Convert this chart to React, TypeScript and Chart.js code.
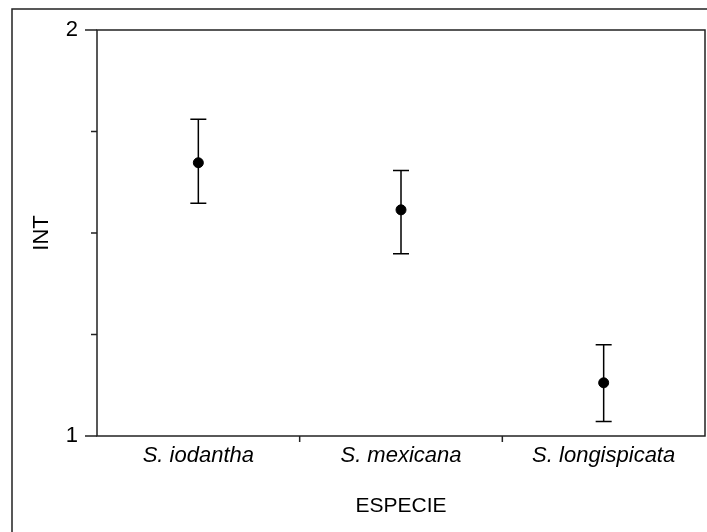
import { useEffect, useRef } from "react";
import { Chart, registerables } from "chart.js";

Chart.register(...registerables);

const categories = ["S. iodantha", "S. mexicana", "S. longispicata"];
const means = [1.673, 1.557, 1.131];
const upper = [1.78, 1.654, 1.225];
const lower = [1.573, 1.449, 1.036];
const yMajorLabels = [1, 2];

const FONT = "'Liberation Sans', Arial, sans-serif";

const framePlugin = {
  id: "frame",
  beforeDraw(chart: any) {
    const ctx = chart.ctx;
    ctx.save();
    ctx.strokeStyle = "#222";
    ctx.lineWidth = 1.5;
    ctx.beginPath();
    ctx.moveTo(12, chart.height + 2);
    ctx.lineTo(12, 9);
    ctx.lineTo(chart.width + 2, 9);
    ctx.stroke();
    ctx.restore();
  },
  beforeDatasetsDraw(chart: any) {
    const ctx = chart.ctx;
    const xs = chart.scales.x;
    const ys = chart.scales.y;
    ctx.save();
    ctx.strokeStyle = "#000";
    ctx.lineWidth = 1.5;
    for (let i = 0; i < categories.length; i++) {
      const x = xs.getPixelForValue(i);
      const yh = ys.getPixelForValue(upper[i]);
      const yl = ys.getPixelForValue(lower[i]);
      ctx.beginPath();
      ctx.moveTo(x, yh);
      ctx.lineTo(x, yl);
      ctx.moveTo(x - 8, yh);
      ctx.lineTo(x + 8, yh);
      ctx.moveTo(x - 8, yl);
      ctx.lineTo(x + 8, yl);
      ctx.stroke();
    }
    ctx.restore();
  },
  afterDraw(chart: any) {
    const ctx = chart.ctx;
    const { left, right, top, bottom } = chart.chartArea;
    const xs = chart.scales.x;
    const ys = chart.scales.y;
    ctx.save();
    ctx.strokeStyle = "#222";
    ctx.lineWidth = 1.5;
    ctx.strokeRect(left, top, right - left, bottom - top);
    ctx.beginPath();
    ys.ticks.forEach((t: any) => {
      const y = ys.getPixelForValue(t.value);
      const len = yMajorLabels.includes(t.value) ? 12 : 6;
      ctx.moveTo(left - len, y);
      ctx.lineTo(left, y);
    });
    for (let i = 0; i < categories.length - 1; i++) {
      const x = (xs.getPixelForValue(i) + xs.getPixelForValue(i + 1)) / 2;
      ctx.moveTo(x, bottom);
      ctx.lineTo(x, bottom + 6);
    }
    ctx.stroke();
    ctx.restore();
  },
};

export default function App() {
  const ref = useRef<HTMLCanvasElement | null>(null);
  useEffect(() => {
    if (!ref.current) return;
    const chart = new Chart(ref.current, {
      type: "line",
      data: {
        labels: categories,
        datasets: [
          {
            data: means,
            showLine: false,
            pointRadius: 5,
            pointBackgroundColor: "#000",
            pointBorderColor: "#000",
            pointBorderWidth: 1,
          },
        ],
      },
      options: {
        animation: false,
        responsive: false,
        events: [],
        layout: { autoPadding: false, padding: { left: 29, top: 30, right: 2, bottom: 13 } },
        plugins: { legend: { display: false }, tooltip: { enabled: false } },
        scales: {
          x: {
            type: "category",
            offset: true,
            grid: { display: false, drawTicks: false },
            border: { display: false },
            ticks: {
              padding: 7,
              color: "#000",
              font: { family: FONT, size: 22, style: "italic" },
              maxRotation: 0,
            },
            title: {
              display: true,
              text: "ESPECIE",
              color: "#000",
              padding: 0,
              font: { family: FONT, size: 21 },
            },
            afterFit: (s: any) => {
              s.height = 83;
              s.paddingLeft = 0;
              s.paddingRight = 0;
            },
          },
          y: {
            type: "linear",
            min: 1,
            max: 2,
            grid: { display: false, drawTicks: false },
            border: { display: false },
            ticks: {
              stepSize: 0.25,
              padding: 19,
              color: "#000",
              font: { family: FONT, size: 22 },
              callback: (v: any) => (yMajorLabels.includes(Number(v)) ? String(v) : ""),
            },
            title: {
              display: true,
              text: "INT",
              color: "#000",
              padding: 0,
              font: { family: FONT, size: 22 },
            },
            afterFit: (s: any) => {
              s.width = 68;
              s.paddingTop = 0;
              s.paddingBottom = 0;
            },
          },
        },
      },
      plugins: [framePlugin],
    });
    return () => chart.destroy();
  }, []);
  return (
    <div style={{ position: "absolute", left: 0, top: 0, width: 707, height: 532, background: "#fff" }}>
      <canvas ref={ref} width={707} height={532} style={{ display: "block" }} />
    </div>
  );
}
